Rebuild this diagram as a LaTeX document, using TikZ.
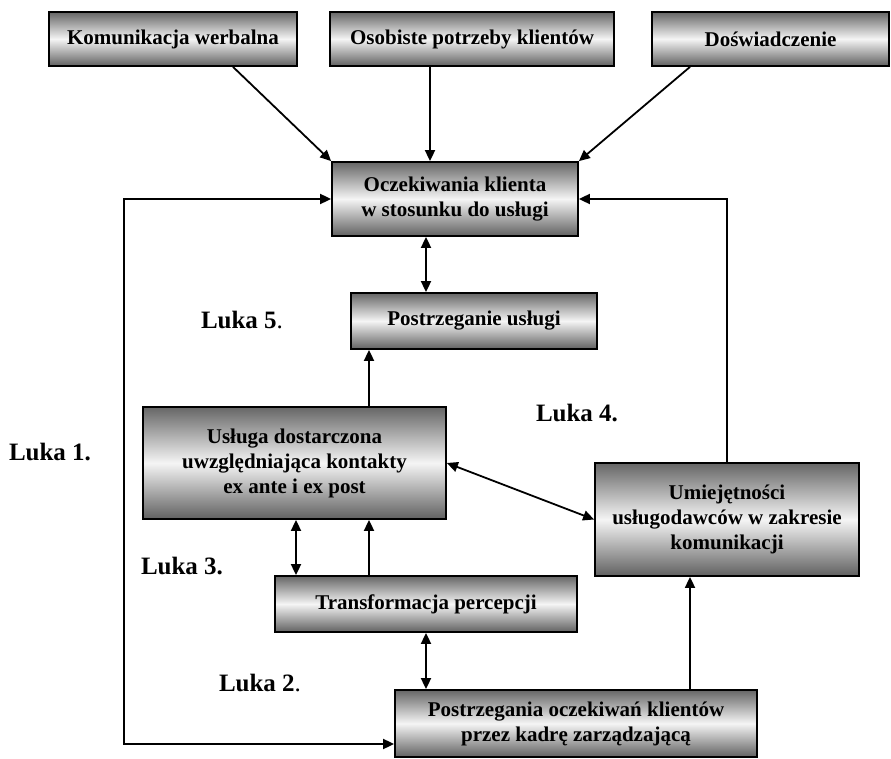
\documentclass[tikz,border=0pt]{standalone}
\usepackage{fontspec}
\setmainfont{Liberation Serif}
\usepackage{tikz}
\usetikzlibrary{arrows.meta}

\begin{document}
\begin{tikzpicture}[x=1pt, y=-1pt, line width=1.8pt,
  main/.style = {draw, rectangle, inner sep=0pt, align=center,
    top color=black!60, bottom color=black!62, middle color=black!4,
    font=\fontsize{21}{25}\selectfont\bfseries},
  luka/.style = {font=\fontsize{25}{29}\selectfont\bfseries},
  >={Triangle[length=11pt,width=10pt]}]
\useasboundingbox (0,0) rectangle (891,759);
\node[main, minimum width=248, minimum height=54] (1) at (173,39) {Komunikacja werbalna};
\node[main, minimum width=284, minimum height=54] (2) at (472,39) {Osobiste potrzeby klientów};
\node[main, minimum width=237, minimum height=54] (3) at (770.5,39) {Doświadczenie};
\node[main, minimum width=246, minimum height=74] (4) at (455,199) {Oczekiwania klienta\\w stosunku do usługi};
\node[main, minimum width=246, minimum height=56] (5) at (474,321) {Postrzeganie usługi};
\node[main, minimum width=303, minimum height=112] (6) at (294.5,463) {Usługa dostarczona\\uwzględniająca kontakty\\ex ante i ex post};
\node[main, minimum width=264, minimum height=113] (7) at (727,519.5) {Umiejętności\\usługodawców w zakresie\\komunikacji};
\node[main, minimum width=302, minimum height=56] (8) at (426,604) {Transformacja percepcji};
\node[main, minimum width=362, minimum height=67] (9) at (576,723.5) {Postrzegania oczekiwań klientów\\przez kadrę zarządzającą};
\node[luka] (l5) at (242,320) {Luka 5\textmd{.}};
\node[luka] (l4) at (577,413) {Luka 4.};
\node[luka] (l1) at (50,452) {Luka 1.};
\node[luka] (l3) at (182,566) {Luka 3.};
\node[luka] (l2) at (260,683) {Luka 2\textmd{.}};
\draw[->] ([xshift=60pt]1.south) -- (4.north west);
\draw[->] ([xshift=-42pt]2.south) -- ([xshift=-42pt]2.south |- 4.north);
\draw[->] ([xshift=-80.5pt]3.south) -- (4.north east);
\draw[<->] ([xshift=-29pt]4.south) -- ([xshift=-29pt]4.south |- 5.north);
\draw[->] ([xshift=-105pt]5.south |- 6.north) -- ([xshift=-105pt]5.south);
\draw[<->] ([xshift=-130pt]8.north) -- ([xshift=-130pt]8.north |- 6.south);
\draw[->] ([xshift=-57pt]8.north) -- ([xshift=-57pt]8.north |- 6.south);
\draw[<->] (8.south) -- (8.south |- 9.north);
\draw[->] ([xshift=114pt]9.north) -- ([xshift=114pt]9.north |- 7.south);
\draw[->] (7.north) |- (4.east);
\draw[<->] (6.east) -- (7.west);
\draw[<->] (4.west) -- ++(-207,0) |- ([yshift=-20.5pt]9.west);
\end{tikzpicture}
\end{document}
